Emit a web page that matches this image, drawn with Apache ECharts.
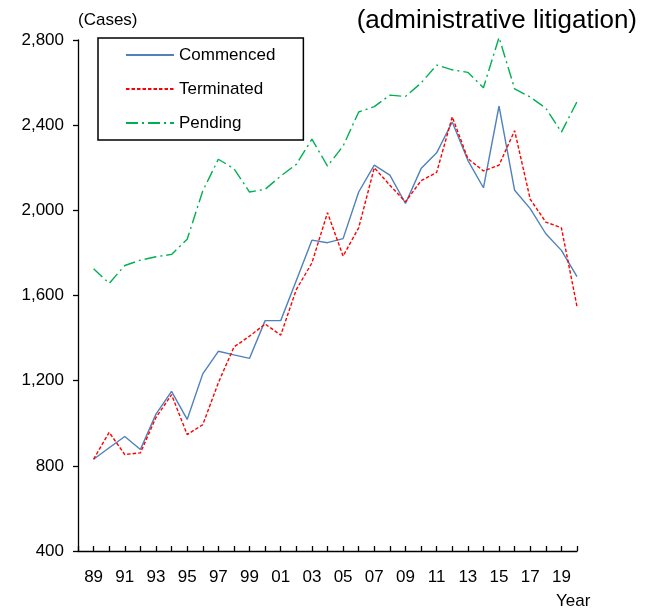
<!DOCTYPE html>
<html>
<head>
<meta charset="utf-8">
<script src="https://cdn.jsdelivr.net/npm/echarts@6/dist/echarts.min.js"></script>
<style>
  html, body { margin: 0; padding: 0; background: #fff; }
  #chart { width: 648px; height: 610px; }
</style>
</head>
<body>
<div id="chart"></div>
<script>
// years 1989 .. 2020
const years = [1989, 1990, 1991, 1992, 1993, 1994, 1995, 1996, 1997, 1998, 1999, 2000,
  2001, 2002, 2003, 2004, 2005, 2006, 2007, 2008, 2009, 2010, 2011, 2012,
  2013, 2014, 2015, 2016, 2017, 2018, 2019, 2020];
const commenced = [831, 885, 938, 877, 1043, 1150, 1018, 1232, 1338, 1321, 1305, 1482,
  1482, 1671, 1860, 1848, 1867, 2086, 2212, 2165, 2032, 2196, 2270, 2415,
  2235, 2106, 2490, 2094, 2008, 1890, 1812, 1689];
const terminated = [831, 957, 853, 861, 1027, 1134, 947, 993, 1190, 1358, 1409, 1466,
  1414, 1628, 1753, 1989, 1785, 1918, 2200, 2118, 2040, 2139, 2178, 2439,
  2243, 2185, 2212, 2374, 2052, 1945, 1918, 1548];
const pending = [1726, 1657, 1741, 1766, 1782, 1793, 1864, 2091, 2240, 2196, 2086, 2099,
  2161, 2216, 2334, 2208, 2302, 2462, 2487, 2541, 2535, 2598, 2682, 2660,
  2648, 2576, 2812, 2571, 2532, 2480, 2367, 2510];
const yTicks = [400, 800, 1200, 1600, 2000, 2400, 2800];

function pairs(vals) {
  return years.map((y, i) => [y, vals[i]]);
}

const font = 'Liberation Sans, Arial, sans-serif';
const chart = echarts.init(document.getElementById('chart'));

chart.setOption({
  animation: false,
  backgroundColor: '#fff',
  textStyle: { fontFamily: font },
  title: {
    text: '(administrative litigation)',
    right: 6,
    top: 3,
    textStyle: { fontFamily: font, fontSize: 26, fontWeight: 'normal', color: '#000' }
  },
  legend: {
    left: 98,
    top: 38,
    orient: 'vertical',
    borderColor: '#000',
    borderWidth: 1.5,
    padding: [8.5, 28, 8.5, 27],
    itemWidth: 48,
    itemHeight: 17,
    itemGap: 17,
    itemStyle: { opacity: 0 },
    textStyle: { fontFamily: font, fontSize: 17, color: '#000', lineHeight: 17 },
    data: ['Commenced', 'Terminated', 'Pending']
  },
  grid: { left: 78, right: 71, top: 40, bottom: 59 },
  xAxis: {
    type: 'value',
    min: 1988,
    max: 2020,
    interval: 1,
    splitLine: { show: false },
    axisLine: { lineStyle: { color: '#000', width: 1.3 } },
    axisTick: { inside: true, length: 5, lineStyle: { color: '#000', width: 1.3 } },
    axisLabel: {
      margin: 18,
      fontSize: 17,
      color: '#000',
      fontFamily: font,
      formatter: v => (v % 2 === 1 && v < 2020) ? String(v).slice(2) : ''
    }
  },
  yAxis: {
    type: 'value',
    min: yTicks[0],
    max: yTicks[yTicks.length - 1],
    interval: 400,
    name: '(Cases)',
    nameGap: 11,
    nameTextStyle: { fontFamily: font, fontSize: 17, color: '#000', align: 'left' },
    splitLine: { show: false },
    axisLine: { show: true, lineStyle: { color: '#000', width: 1.3 } },
    axisTick: { show: true, length: 5, lineStyle: { color: '#000', width: 1.3 } },
    axisLabel: {
      margin: 14,
      fontSize: 17,
      color: '#000',
      fontFamily: font,
      formatter: v => v.toLocaleString('en-US')
    }
  },
  graphic: [{
    type: 'text',
    left: 556,
    top: 593,
    style: { text: 'Year', fontFamily: font, fontSize: 17, fill: '#000' }
  }],
  series: [
    {
      name: 'Commenced',
      type: 'line',
      symbol: 'none',
      clip: false,
      data: pairs(commenced),
      color: '#4F81BD',
      lineStyle: { color: '#4F81BD', width: 1.4 }
    },
    {
      name: 'Terminated',
      type: 'line',
      symbol: 'none',
      clip: false,
      data: pairs(terminated),
      color: '#FF0000',
      lineStyle: { color: '#FF0000', width: 1.4, type: [3.5, 2] }
    },
    {
      name: 'Pending',
      type: 'line',
      symbol: 'none',
      clip: false,
      data: pairs(pending),
      color: '#00B050',
      lineStyle: { color: '#00B050', width: 1.4, type: [12, 4, 2, 4] }
    }
  ]
});
</script>
</body>
</html>
